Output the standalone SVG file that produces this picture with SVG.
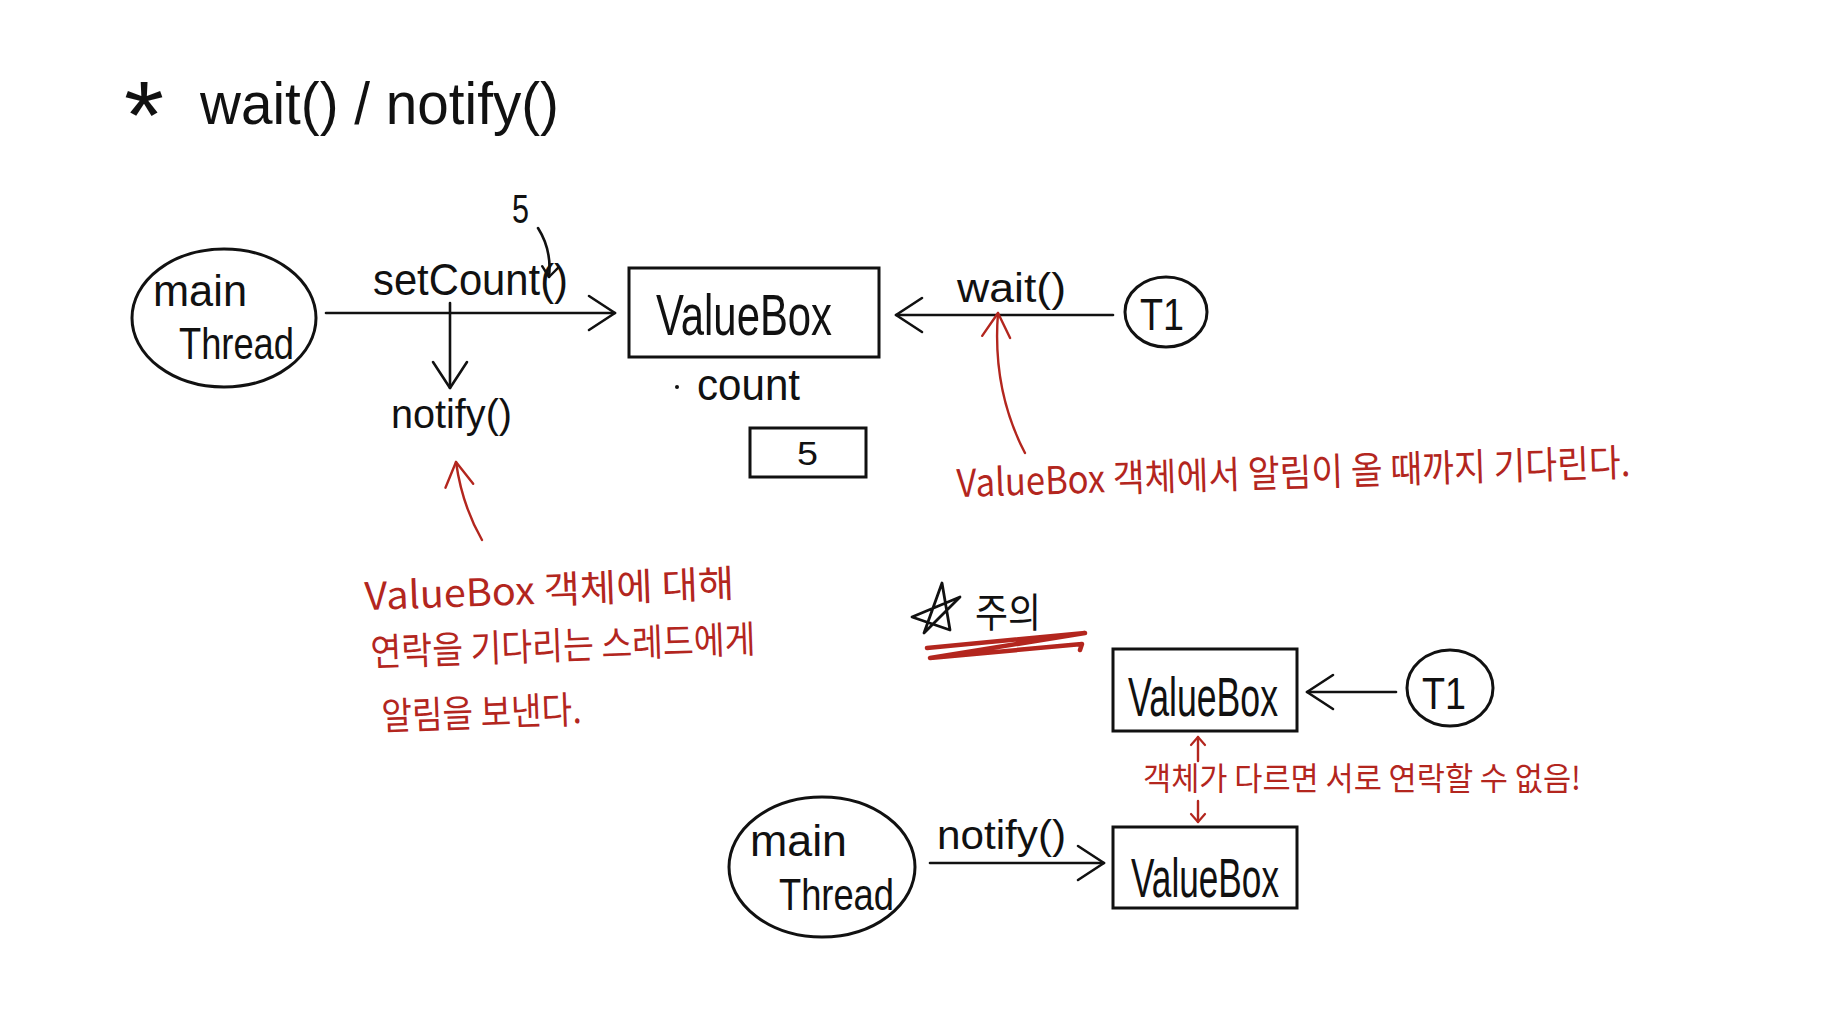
<svg xmlns="http://www.w3.org/2000/svg" width="1844" height="1028" viewBox="0 0 1844 1028">
<style>
.k{font-family:"Liberation Sans","Noto Sans",sans-serif;fill:#111}
.r{font-family:"Noto Sans CJK KR","Liberation Sans",sans-serif;fill:#b3261e}
.kr{font-family:"Noto Sans CJK KR","Liberation Sans",sans-serif;fill:#111}
.ln{fill:none;stroke:#111;stroke-width:2.6;stroke-linecap:round}
.rl{fill:none;stroke:#b3261e;stroke-width:2.4;stroke-linecap:round}
.box{fill:none;stroke:#111;stroke-width:3}
</style>
<defs>
<marker id="ah" markerUnits="userSpaceOnUse" markerWidth="34" markerHeight="42" viewBox="-30 -20 34 42" refX="0" refY="0" orient="auto" overflow="visible"><path d="M-26,-17 L0,0 L-26,17" fill="none" stroke="#111" stroke-width="2.6" stroke-linecap="round" stroke-linejoin="round"/></marker>
<marker id="ahk" markerUnits="userSpaceOnUse" markerWidth="20" markerHeight="20" viewBox="-12 -10 20 20" refX="0" refY="0" orient="auto" overflow="visible"><path d="M-10,-8 L0,0 L-10,8" fill="none" stroke="#111" stroke-width="2.4" stroke-linecap="round" stroke-linejoin="round"/></marker>
<marker id="ahr" markerUnits="userSpaceOnUse" markerWidth="30" markerHeight="34" viewBox="-26 -16 30 34" refX="0" refY="0" orient="auto" overflow="visible"><path d="M-24,-14 L0,0 L-24,14" fill="none" stroke="#b3261e" stroke-width="2.4" stroke-linecap="round" stroke-linejoin="round"/></marker>
<marker id="ahs" markerUnits="userSpaceOnUse" markerWidth="16" markerHeight="16" viewBox="-10 -8 16 16" refX="0" refY="0" orient="auto" overflow="visible"><path d="M-8,-7 L0,0 L-8,7" fill="none" stroke="#b3261e" stroke-width="2.2" stroke-linecap="round" stroke-linejoin="round"/></marker>
</defs>
<rect width="1844" height="1028" fill="#fff"/>

<g id="title">
<text class="k" x="124" y="148" font-size="96" textLength="40" lengthAdjust="spacingAndGlyphs">*</text>
<text class="k" x="200" y="124" font-size="60" textLength="359" lengthAdjust="spacingAndGlyphs">wait() / notify()</text>
</g>

<g id="connectors">
<path class="ln" d="M326,313 L615,313" marker-end="url(#ah)"/>
<path class="ln" d="M450,303 L450,388" marker-end="url(#ah)"/>
<path class="ln" d="M538,228 Q552,250 549,277" marker-end="url(#ahk)"/>
<path class="ln" d="M1113,315 L896,315" marker-end="url(#ah)"/>
<path class="rl" d="M482,540 Q462,505 456,462" marker-end="url(#ahr)"/>
<path class="rl" d="M1025,453 Q992,390 998,313" marker-end="url(#ahr)"/>
<path class="ln" d="M1396,692 L1307,692" marker-end="url(#ah)"/>
<path class="ln" d="M930,863 L1104,863" marker-end="url(#ah)"/>
<path class="rl" d="M1198,761 L1198,737" marker-end="url(#ahs)"/>
<path class="rl" d="M1198,801 L1198,822" marker-end="url(#ahs)"/>
</g>

<g id="mainThread1">
<ellipse cx="224" cy="318" rx="92" ry="69" class="box"/>
<text class="k" x="153" y="306" font-size="44" textLength="94" lengthAdjust="spacingAndGlyphs">main</text>
<text class="k" x="179" y="359" font-size="44" textLength="115" lengthAdjust="spacingAndGlyphs">Thread</text>
</g>

<g id="setCountLabel">
<text class="k" x="373" y="295" font-size="44" textLength="195" lengthAdjust="spacingAndGlyphs">setCount()</text>
<text class="k" x="512" y="223" font-size="40" textLength="17" lengthAdjust="spacingAndGlyphs">5</text>
</g>

<g id="notifyLabel1">
<text class="k" x="391" y="428" font-size="40" textLength="121" lengthAdjust="spacingAndGlyphs">notify()</text>
</g>

<g id="valueBox1">
<rect x="629" y="268" width="250" height="89" class="box"/>
<text class="k" x="656" y="335" font-size="58" textLength="176" lengthAdjust="spacingAndGlyphs">ValueBox</text>
<circle cx="677" cy="387" r="2" fill="#111"/>
<text class="k" x="697" y="400" font-size="44" textLength="103" lengthAdjust="spacingAndGlyphs">count</text>
</g>

<g id="countBox">
<rect x="750" y="428" width="116" height="49" class="box"/>
<text class="k" x="797" y="465" font-size="34" textLength="21" lengthAdjust="spacingAndGlyphs">5</text>
</g>

<g id="waitLabel">
<text class="k" x="957" y="302" font-size="40" textLength="109" lengthAdjust="spacingAndGlyphs">wait()</text>
</g>

<g id="T1a">
<ellipse cx="1166" cy="312" rx="41" ry="35" class="box"/>
<text class="k" x="1140" y="330" font-size="44" textLength="44" lengthAdjust="spacingAndGlyphs">T1</text>
</g>

<g id="noteWait">
<text class="r" x="957" y="497" font-size="38" textLength="674" lengthAdjust="spacingAndGlyphs" transform="rotate(-1.8 957 497)">ValueBox 객체에서 알림이 올 때까지 기다린다.</text>
</g>

<g id="noteNotify">
<text class="r" x="365" y="610" font-size="38" textLength="370" lengthAdjust="spacingAndGlyphs" transform="rotate(-2 365 610)">ValueBox 객체에 대해</text>
<text class="r" x="371" y="666" font-size="38" textLength="385" lengthAdjust="spacingAndGlyphs" transform="rotate(-2 371 666)">연락을 기다리는 스레드에게</text>
<text class="r" x="382" y="730" font-size="38" textLength="200" lengthAdjust="spacingAndGlyphs" transform="rotate(-2 382 730)">알림을 보낸다.</text>
</g>

<g id="caution">
<path d="M942,583 L950,630 L912,617 L960,597 L924,633 Z" fill="none" stroke="#111" stroke-width="2.8" stroke-linejoin="round"/>
<text class="kr" x="975" y="627" font-size="40" textLength="66" lengthAdjust="spacingAndGlyphs">주의</text>
<path d="M927,648 L1085,633 L930,658 L1082,644 L1080,650" fill="none" stroke="#b3261e" stroke-width="4.5" stroke-linecap="round" stroke-linejoin="round"/>
</g>

<g id="valueBox2">
<rect x="1113" y="649" width="184" height="82" class="box"/>
<text class="k" x="1128" y="716" font-size="56" textLength="150" lengthAdjust="spacingAndGlyphs">ValueBox</text>
</g>

<g id="T1b">
<ellipse cx="1450" cy="688" rx="43" ry="38" class="box"/>
<text class="k" x="1422" y="709" font-size="44" textLength="44" lengthAdjust="spacingAndGlyphs">T1</text>
</g>

<g id="noteDiff">
<text class="r" x="1143" y="790" font-size="32" textLength="438" lengthAdjust="spacingAndGlyphs">객체가 다르면 서로 연락할 수 없음!</text>
</g>

<g id="mainThread2">
<ellipse cx="822" cy="867" rx="93" ry="70" class="box"/>
<text class="k" x="750" y="856" font-size="44" textLength="97" lengthAdjust="spacingAndGlyphs">main</text>
<text class="k" x="779" y="910" font-size="44" textLength="115" lengthAdjust="spacingAndGlyphs">Thread</text>
</g>

<g id="notifyLabel2">
<text class="k" x="937" y="849" font-size="40" textLength="129" lengthAdjust="spacingAndGlyphs">notify()</text>
</g>

<g id="valueBox3">
<rect x="1113" y="827" width="184" height="81" class="box"/>
<text class="k" x="1131" y="897" font-size="56" textLength="148" lengthAdjust="spacingAndGlyphs">ValueBox</text>
</g>
</svg>
